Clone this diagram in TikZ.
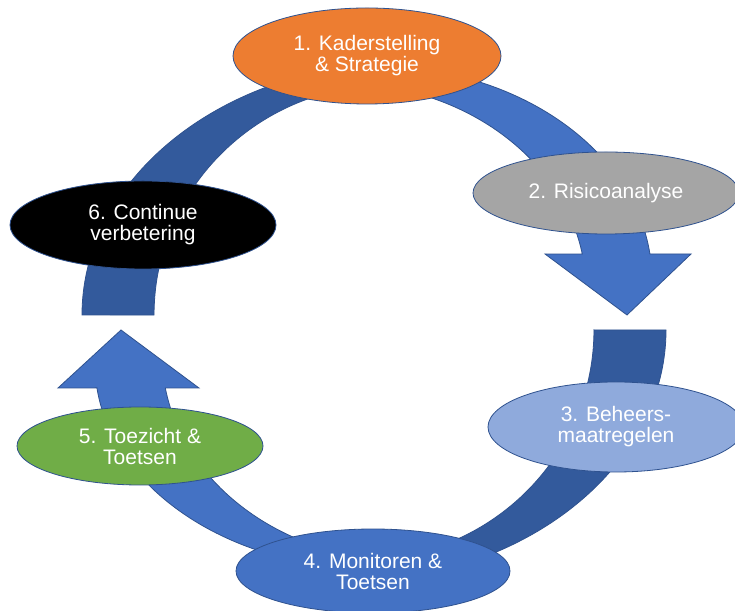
\documentclass[tikz,border=0pt]{standalone}
\usepackage{fontspec}
\setmainfont{Liberation Sans}
\usetikzlibrary{shapes.geometric}
\definecolor{bandlight}{HTML}{4472C4}
\definecolor{banddark}{HTML}{335A9C}
\definecolor{edgeblue}{HTML}{2F528F}
\definecolor{stageorange}{HTML}{ED7D31}
\definecolor{stagegray}{HTML}{A5A5A5}
\definecolor{stagelightblue}{HTML}{8FAADC}
\definecolor{stageblue}{HTML}{4472C4}
\definecolor{stagegreen}{HTML}{70AD47}
\begin{document}
\begin{tikzpicture}[x=1pt,y=1pt,
  lightband/.style={fill=bandlight, draw=edgeblue, line width=0.8pt, line join=miter},
  darkband/.style={fill=banddark, draw=edgeblue, line width=0.8pt},
  stage/.style={ellipse, draw=edgeblue, line width=0.8pt, inner sep=0pt,
    text=white, align=center, font=\fontsize{21}{21}\selectfont}]
\useasboundingbox (0,0) rectangle (735,610);
\clip (0,0) rectangle (735,610);
\fill[white] (0,0) rectangle (735,610);

% right arrow (top -> right, pointing down)
\path[lightband] (398.2,543.2)
  arc[start angle=85, end angle=7, x radius=278pt, y radius=214pt]
  -- (691,356) -- (627,295) -- (545,356) -- (582.3,355.9)
  arc[start angle=10, end angle=80, x radius=246pt, y radius=207pt] -- cycle;

% left arrow (bottom -> left, pointing up)
\path[lightband] (349.7,41.8)
  arc[start angle=-95, end angle=-173.3, x radius=279pt, y radius=205pt]
  -- (58,222) -- (121,280) -- (199,222) -- (165.3,222)
  arc[start angle=-170.55, end angle=-85, x radius=246pt, y radius=207pt] -- cycle;

% right dark segment
\path[darkband] (594,280) -- (666,280)
  arc[start angle=0, end angle=-66.5, x radius=326pt, y radius=253pt]
  -- (440,63.9)
  arc[start angle=-70, end angle=0, x radius=234pt, y radius=230pt] -- cycle;

% left dark segment
\path[darkband] (82,295)
  arc[start angle=180, end angle=100, x radius=326pt, y radius=253pt]
  -- (347.4,521.5)
  arc[start angle=100, end angle=180, x radius=234pt, y radius=230pt] -- cycle;

% stages
\node[stage, fill=stageorange, minimum width=268pt, minimum height=96pt] (s1) at (367,554) {1. Kaderstelling\\\& Strategie};
\node[stage, fill=stagegray, minimum width=266pt, minimum height=82pt] (s2) at (606,417) {2. Risicoanalyse};
\node[stage, fill=stagelightblue, minimum width=256pt, minimum height=90pt] (s3) at (616,183) {3. Beheers-\\maatregelen};
\node[stage, fill=stageblue, minimum width=274pt, minimum height=84pt] (s4) at (373,39) {4. Monitoren \&\\Toetsen};
\node[stage, fill=stagegreen, minimum width=246pt, minimum height=78pt] (s5) at (140,164) {5. Toezicht \&\\Toetsen};
\node[stage, fill=black, minimum width=266pt, minimum height=88pt] (s6) at (143,385) {6. Continue\\verbetering};
\end{tikzpicture}
\end{document}
